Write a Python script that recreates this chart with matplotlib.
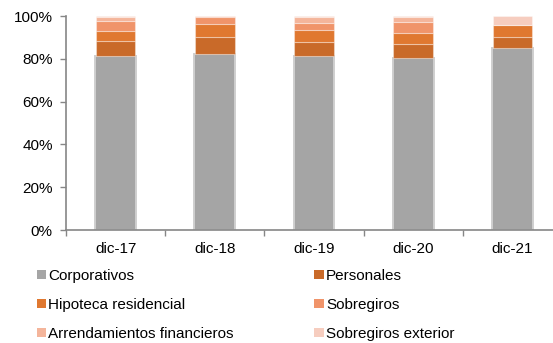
import matplotlib.pyplot as plt
import numpy as np
from matplotlib.patches import Patch
from matplotlib.ticker import FuncFormatter

plt.rcParams["font.family"] = ["Liberation Sans", "DejaVu Sans"]

categories = ["dic-17", "dic-18", "dic-19", "dic-20", "dic-21"]

# share of each portfolio (%)
corporativos = [81.4, 82.2, 81.4, 80.4, 84.9]
personales = [6.7, 7.8, 6.3, 6.4, 5.1]
hipoteca = [5.1, 6.1, 5.6, 5.4, 6.0]
sobregiros = [4.6, 3.3, 3.6, 4.8, 0.0]
arrendamientos = [1.9, 0.4, 2.8, 2.7, 0.0]
sobregiros_ext = [0.3, 0.2, 0.3, 0.3, 4.0]

series = [
    ("Corporativos", corporativos, "#a5a5a5"),
    ("Personales", personales, "#c96a29"),
    ("Hipoteca residencial", hipoteca, "#e07830"),
    ("Sobregiros", sobregiros, "#f0946a"),
    ("Arrendamientos financieros", arrendamientos, "#f4b59b"),
    ("Sobregiros exterior", sobregiros_ext, "#f6cdbf"),
]

fig = plt.figure(figsize=(5.53, 3.43), dpi=100)
ax = fig.add_axes([66 / 553, 113 / 343, 496 / 553, 214 / 343])

x = np.arange(len(categories))
bottom = np.zeros(len(categories))
handles = {}
for i, (name, vals, color) in enumerate(series):
    if i == 0:
        ax.bar(x, vals, 0.41, bottom=bottom, color=color,
               edgecolor="#cfcfcf", linewidth=1.4, zorder=2)
    else:
        ax.bar(x, vals, 0.40, bottom=bottom, color=color,
               edgecolor=(1, 1, 1, 0.35), linewidth=0.8, zorder=2)
    bottom += np.array(vals)
    handles[name] = Patch(facecolor=color, edgecolor="none")

ax.set_xlim(-0.5, 4.5)
ax.set_ylim(0, 100)
ax.set_yticks(np.arange(0, 101, 20))
ax.yaxis.set_major_formatter(FuncFormatter(lambda v, p: f"{v:.0f}%"))

ax.set_xticks(x)
ax.set_xticklabels(categories)
ax.set_xticks(np.arange(-0.5, 4.6, 1), minor=True)
ax.tick_params(axis="x", which="major", length=0, pad=8.5, labelsize=11)
ax.tick_params(axis="x", which="minor", length=4.5, width=1, color="#868686")
ax.tick_params(axis="y", length=4.5, width=1, color="#868686", pad=5, labelsize=11)

for side in ["top", "right"]:
    ax.spines[side].set_visible(False)
for side in ["left", "bottom"]:
    ax.spines[side].set_color("#868686")
    ax.spines[side].set_linewidth(1.2)

order = ["Corporativos", "Hipoteca residencial", "Arrendamientos financieros",
         "Personales", "Sobregiros", "Sobregiros exterior"]
fig.legend([handles[n] for n in order], order, ncol=2, frameon=False,
           loc="upper left", bbox_to_anchor=(37 / 553, 1 - 269 / 343),
           fontsize=11, handlelength=0.6, handleheight=0.6,
           handletextpad=0.15, columnspacing=5.27, labelspacing=0.98,
           borderpad=0, borderaxespad=0)

fig.savefig("out.png", dpi=100)
